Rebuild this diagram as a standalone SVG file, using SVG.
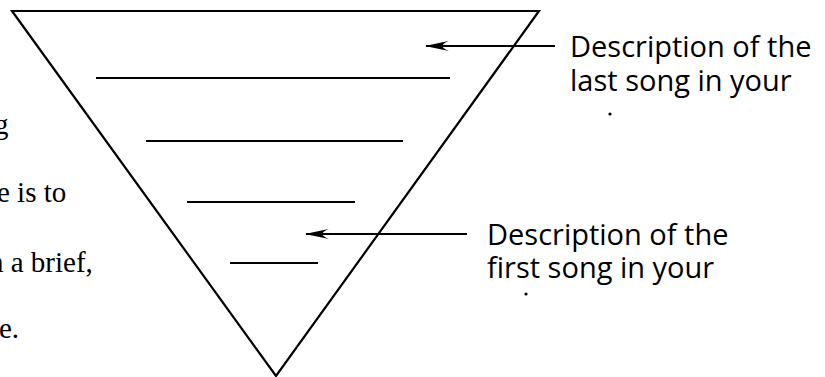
<svg xmlns="http://www.w3.org/2000/svg" width="825" height="377" viewBox="0 0 825 377">
  <style>
    .edge { fill: none; stroke: #000; stroke-width: 2.2; stroke-linejoin: miter; }
    .rule { stroke: #000; stroke-width: 2.2; }
    .body { font-family: "Liberation Serif", "Times New Roman", serif; font-size: 29px; fill: #000; }
    .label { font-family: "Open Sans", "DejaVu Sans", sans-serif; font-size: 29px; fill: #000; }
  </style>
  <defs>
    <!-- swept arrowhead; tip sits at the end of the line -->
    <marker id="head" viewBox="0 0 24 11" refX="23" refY="5.5" markerWidth="24" markerHeight="11" markerUnits="userSpaceOnUse" orient="auto">
      <path d="M24,5.5 L0,0.4 Q13,5.5 0,10.6 Z" fill="#000"/>
    </marker>
  </defs>

  <!-- body text running along the left margin -->
  <g id="body-text">
    <text class="body" x="-6" y="134">g</text>
    <text class="body" x="-3" y="202">e is to</text>
    <text class="body" x="-11" y="272">n a brief,</text>
    <text class="body" x="-1" y="338">e.</text>
  </g>

  <!-- inverted triangle with its rules -->
  <g id="funnel">
    <polygon class="edge" points="12,11 539,11 276,376"/>
    <line class="rule" x1="96" y1="78" x2="450" y2="78"/>
    <line class="rule" x1="146" y1="141" x2="403" y2="141"/>
    <line class="rule" x1="187" y1="202" x2="355" y2="202"/>
    <line class="rule" x1="230" y1="263" x2="318" y2="263"/>
  </g>

  <g id="label-last">
    <text class="label" x="570" y="57">Description of the<tspan x="570" dy="34">last song in your</tspan></text>
    <circle cx="610" cy="114" r="1.6" fill="#000"/>
  </g>

  <g id="label-first">
    <text class="label" x="487" y="245">Description of the<tspan x="487" dy="33">first song in your</tspan></text>
    <circle cx="526" cy="294" r="1.6" fill="#000"/>
  </g>

  <g id="connectors">
    <line class="rule" x1="555" y1="46" x2="426" y2="46" marker-end="url(#head)"/>
    <line class="rule" x1="467" y1="234" x2="306" y2="234" marker-end="url(#head)"/>
  </g>
</svg>
